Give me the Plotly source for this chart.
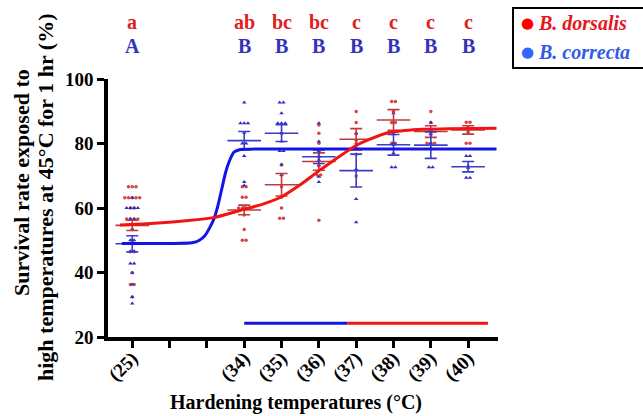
import plotly.graph_objects as go

# ---------------- data ----------------
tick_labels = ['(25)', '', '', '(34)', '(35)', '(36)', '(37)', '(38)', '(39)', '(40)']
group_temps = ['(25)', '(34)', '(35)', '(36)', '(37)', '(38)', '(39)', '(40)']

dorsalis_points = [
    [66.6, 66.6, 66.6, 63.2, 63.2, 63.2, 63.2, 63.2, 60, 60, 56.6, 56.6, 56.6, 56.6, 53.3, 50, 46.4, 46.4, 39.9, 36.3, 36.3, 32.4],
    [66.6, 66.6, 63.3, 63.3, 60, 60, 60, 60, 57.8, 53.3, 50, 50],
    [83.2, 73.3, 70.2, 66.6, 63.3, 60, 56.8, 56.8],
    [85.7, 83.2, 80.1, 76, 73, 70.2, 70.2, 56.2],
    [89.9, 86.5, 83, 81, 80, 78.5, 69.9],
    [93, 93, 89.9, 86.5, 86.5, 83.5, 80.1, 80.1],
    [89.9, 86.5, 84, 83, 80.1, 80.1, 80.1],
    [86.6, 86.6, 85, 84.2, 83.5, 80.1, 80.1],
]
correcta_points = [
    [63.2, 60, 60, 60, 60, 56.6, 56.6, 53.3, 50, 50, 46.6, 46.6, 42.8, 42.8, 39.9, 36.3, 32.4, 30.4],
    [92.7, 86.3, 86.3, 86.3, 83.3, 80, 80, 76.1, 68.1, 67],
    [92.7, 92.7, 89.4, 86.3, 86.3, 86.3, 83.2, 80.6, 77.7, 77.7, 73.5, 70.2],
    [86.3, 80.6, 77.7, 76, 75, 73.3, 69.7, 68.1],
    [83.2, 78.5, 76.7, 72, 62.8, 55.6],
    [89.4, 82.9, 80.1, 79.5, 77, 72.6, 72.6],
    [86.5, 84, 82.9, 80.1, 78.5, 72.6, 72.6],
    [76.1, 76.1, 73, 72.5, 69.4, 69.4],
]
dorsalis_mean = [54.6, 59.4, 67.2, 74.4, 81.3, 87.3, 83.7, 84.2]
dorsalis_se = [1.6, 1.5, 3.5, 2.7, 3.3, 3.2, 1.8, 1.3]
correcta_mean = [48.9, 80.9, 83.2, 75.9, 71.6, 79.6, 79.5, 72.8]
correcta_se = [2.5, 2.8, 2.6, 2.1, 5.1, 3.2, 4.1, 1.6]

# fitted curves (x in tick-index units)
correcta_curve_x = [-0.28, 1.0, 1.6, 1.8, 1.95, 2.08, 2.2, 2.3, 2.4, 2.5, 2.6, 2.72, 2.85, 3.0, 3.3, 9.76]
correcta_curve_y = [49.0, 49.0, 49.2, 50.0, 51.5, 54.0, 57.0, 61.0, 66.0, 71.0, 74.5, 77.3, 78.0, 78.2, 78.3, 78.3]
dorsalis_curve_x = [-0.33, 0.5, 1.5, 2.2, 3.0, 3.5, 4.0, 4.5, 5.0, 5.5, 6.0, 6.4, 6.8, 7.3, 7.8, 8.5, 9.76]
dorsalis_curve_y = [54.7, 55.2, 56.1, 57.1, 59.6, 61.2, 63.5, 67.2, 71.5, 75.6, 79.4, 81.5, 83.2, 84.0, 84.4, 84.6, 84.75]

# bottom bar segments
bar_level = 24.25
correcta_bar_x = [3.0, 5.77]
dorsalis_bar_x = [5.77, 9.53]

dorsalis_letters = ['a', 'ab', 'bc', 'bc', 'c', 'c', 'c', 'c']
correcta_letters = ['A', 'B', 'B', 'B', 'B', 'B', 'B', 'B']

species = ['B. dorsalis', 'B. correcta']

# ---------------- styling ----------------
RED_CURVE = '#f21313'
BLUE_CURVE = '#1414e6'
RED_PT = '#d94545'
BLUE_PT = '#2d2dcc'
RED_ERR = '#c23b3b'
BLUE_ERR = '#3c3cc4'
FONT = 'Liberation Serif'

W, H = 643, 416
ML, MR, MT, MB = 108, 145, 79, 79
PW, PH = W - ML - MR, H - MT - MB


def px_to_paper_x(px):
    return (px - ML) / PW


def py_to_paper_y(py):
    return (H - MB - py) / PH


group_x = [tick_labels.index(t) for t in group_temps]


def spread(vals, step=0.1):
    counts = {}
    for v in vals:
        counts[v] = counts.get(v, 0) + 1
    seen = {}
    offs = []
    for v in vals:
        n = counts[v]
        k = seen.get(v, 0)
        seen[v] = k + 1
        offs.append((k - (n - 1) / 2) * step)
    return offs


def flat_points(groups):
    xs, ys = [], []
    for gx, vals in zip(group_x, groups):
        for o, v in zip(spread(vals), vals):
            xs.append(gx + o)
            ys.append(v)
    return xs, ys


fig = go.Figure()

dx, dy = flat_points(dorsalis_points)
cx, cy = flat_points(correcta_points)
fig.add_trace(go.Scatter(x=dx, y=dy, mode='markers', name=species[0], showlegend=False,
                         marker=dict(symbol='circle', size=3.5, color=RED_PT)))
fig.add_trace(go.Scatter(x=cx, y=cy, mode='markers', name=species[1], showlegend=False,
                         marker=dict(symbol='triangle-up', size=4, color=BLUE_PT)))

for means, ses, col in [(dorsalis_mean, dorsalis_se, RED_ERR), (correcta_mean, correcta_se, BLUE_ERR)]:
    fig.add_trace(go.Scatter(
        x=group_x, y=means, mode='markers', showlegend=False,
        marker=dict(symbol='line-ew', size=24, line=dict(width=1.6, color=col)),
        error_y=dict(type='data', array=ses, visible=True, width=6, thickness=1.6, color=col)))

fig.add_trace(go.Scatter(x=correcta_curve_x, y=correcta_curve_y, mode='lines', showlegend=False,
                         line=dict(color=BLUE_CURVE, width=3, shape='spline', smoothing=0.6)))
fig.add_trace(go.Scatter(x=dorsalis_curve_x, y=dorsalis_curve_y, mode='lines', showlegend=False,
                         line=dict(color=RED_CURVE, width=3, shape='spline', smoothing=0.6)))

fig.add_trace(go.Scatter(x=correcta_bar_x, y=[bar_level] * 2, mode='lines', showlegend=False,
                         line=dict(color=BLUE_CURVE, width=3)))
fig.add_trace(go.Scatter(x=dorsalis_bar_x, y=[bar_level] * 2, mode='lines', showlegend=False,
                         line=dict(color=RED_CURVE, width=3)))

# significance letters
for gx, ltr in zip(group_x, dorsalis_letters):
    fig.add_annotation(x=gx, xref='x', y=py_to_paper_y(22), yref='paper', text=ltr, showarrow=False,
                       yanchor='middle', font=dict(family=FONT, size=20, color='#e01e1e', weight='bold'))
for gx, ltr in zip(group_x, correcta_letters):
    fig.add_annotation(x=gx, xref='x', y=py_to_paper_y(46), yref='paper', text=ltr, showarrow=False,
                       yanchor='middle', font=dict(family=FONT, size=20, color='#3434b8', weight='bold'))

# legend box (drawn manually to match the original layout)
fig.add_shape(type='rect', xref='paper', yref='paper',
              x0=px_to_paper_x(513), x1=px_to_paper_x(660), y0=py_to_paper_y(68), y1=py_to_paper_y(8),
              line=dict(color='black', width=2), fillcolor='white')
legend_rows = [(species[0], '#ff0000', '#e8141c', 23), (species[1], '#3366ff', '#2f5be8', 52)]
for name, dot_col, txt_col, py in legend_rows:
    fig.add_annotation(x=px_to_paper_x(527), y=py_to_paper_y(py), xref='paper', yref='paper',
                       text='●', showarrow=False, xanchor='center', yanchor='middle',
                       font=dict(family='DejaVu Sans', size=15, color=dot_col))
    fig.add_annotation(x=px_to_paper_x(536), y=py_to_paper_y(py), xref='paper', yref='paper',
                       text=f'<i>{name}</i>', showarrow=False, xanchor='left', yanchor='middle',
                       font=dict(family=FONT, size=20, color=txt_col, weight='bold'))

# axis titles
for txt, px, py in [('Survival rate exposed to', 21, 183),
                    ('high temperatures at 45°C for 1 hr (%)', 45, 198)]:
    fig.add_annotation(x=px_to_paper_x(px), y=py_to_paper_y(py), xref='paper', yref='paper',
                       text=txt, textangle=-90, showarrow=False, xanchor='center', yanchor='middle',
                       font=dict(family=FONT, size=22, color='black', weight='bold'))
fig.add_annotation(x=px_to_paper_x(296), y=py_to_paper_y(402), xref='paper', yref='paper',
                   text='Hardening temperatures (°C)', showarrow=False, xanchor='center', yanchor='middle',
                   font=dict(family=FONT, size=20, color='black', weight='bold'))

fig.update_layout(
    width=W, height=H,
    margin=dict(l=ML, r=MR, t=MT, b=MB, autoexpand=False),
    paper_bgcolor='white', plot_bgcolor='white',
    font=dict(family=FONT, size=19, color='black'),
    showlegend=False,
)
fig.update_xaxes(
    range=[-0.65, 9.8], tickmode='array', tickvals=list(range(len(tick_labels))), ticktext=tick_labels,
    tickangle=-45, ticks='outside', ticklen=7, tickwidth=3, tickcolor='black',
    showline=True, linewidth=3.5, linecolor='black', showgrid=False, zeroline=False,
    tickfont=dict(family=FONT, size=19, weight='bold'), ticklabelstandoff=-8, automargin=False,
)
fig.update_yaxes(
    range=[20, 100], tickvals=[20, 40, 60, 80, 100], ticks='outside', ticklen=7, tickwidth=3,
    tickcolor='black', showline=True, linewidth=3.5, linecolor='black', showgrid=False, zeroline=False,
    tickfont=dict(family=FONT, size=19, weight='bold'), automargin=False,
)

fig.write_html('out.html')
